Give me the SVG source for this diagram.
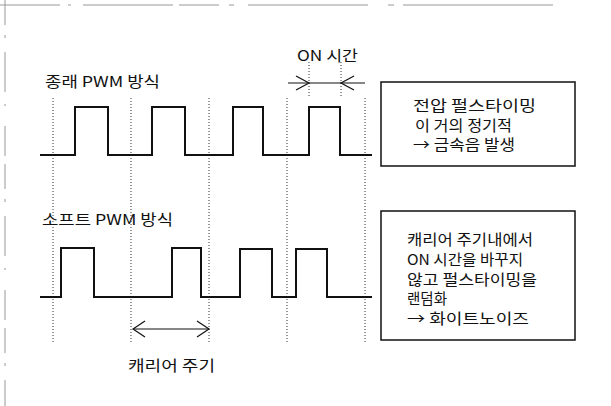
<svg xmlns="http://www.w3.org/2000/svg" width="611" height="406" viewBox="0 0 611 406">
<style>
.t{font-family:"Noto Sans CJK KR","Noto Sans",sans-serif;font-size:15px;fill:#111}
.wave{fill:none;stroke:#111;stroke-width:2;stroke-linejoin:miter}
.dot{stroke:#333;stroke-width:1;stroke-dasharray:1 2;fill:none}
.box{fill:#fff;stroke:#111;stroke-width:1.5}
.arr{fill:none;stroke:#111;stroke-width:1.2}
.frame{fill:none;stroke:#999;stroke-width:1}
</style>
<rect width="611" height="406" fill="#fff"/>
<g id="frame">
<path class="frame" d="M0 5 H611" stroke-dasharray="60 8 3 12 90 6 40 10 5 14 120 20 6 9 150"/>
<path class="frame" d="M5 0 V406" stroke-dasharray="25 10 3 14 40 12 2 20 30 8"/>
</g>
<g id="connectors">
<g id="gridlines">
<path class="dot" d="M53 98 V342 M131 98 V342 M209 98 V342 M287 98 V342 M365 98 V342"/>
<path class="dot" d="M309 62 V98 M341 62 V98"/>
</g>
<g id="on-time-arrow">
<path class="arr" d="M288 83 H365"/>
<path class="arr" d="M296 76 L309 83 L296 90"/>
<path class="arr" d="M354 76 L341 83 L354 90"/>
</g>
<g id="carrier-arrow">
<path class="arr" d="M133 329 H209"/>
<path class="arr" d="M145 321 L133 329 L145 337"/>
<path class="arr" d="M197 321 L209 329 L197 337"/>
</g>
</g>
<g id="conventional-pwm">
<text class="t" x="45" y="87" textLength="115" lengthAdjust="spacingAndGlyphs">종래 PWM 방식</text>
<path class="wave" d="M40 155 H75 V107 H108 V155 H152 V107 H185 V155 H233 V107 H263 V155 H309 V107 H340 V155 H372"/>
</g>
<g id="on-time-label">
<text class="t" x="297" y="61" textLength="61" lengthAdjust="spacingAndGlyphs">ON 시간</text>
</g>
<g id="soft-pwm">
<text class="t" x="42" y="225" textLength="131" lengthAdjust="spacingAndGlyphs">소프트 PWM 방식</text>
<path class="wave" d="M40 297 H61 V248 H94 V297 H172 V248 H201 V297 H240 V249 H272 V297 H296 V249 H327 V297 H372"/>
</g>
<g id="carrier-label">
<text class="t" x="128" y="371" textLength="87" lengthAdjust="spacingAndGlyphs">캐리어 주기</text>
</g>
<g id="box-conventional">
<rect class="box" x="381" y="82" width="194" height="84"/>
<text class="t" x="413" y="111" textLength="123" lengthAdjust="spacingAndGlyphs">전압 펄스타이밍</text>
<text class="t" x="415" y="130.5" textLength="97" lengthAdjust="spacingAndGlyphs">이 거의 정기적</text>
<text class="t" x="413" y="150" textLength="102" lengthAdjust="spacingAndGlyphs">→ 금속음 발생</text>
</g>
<g id="box-soft">
<rect class="box" x="381" y="211" width="194" height="129"/>
<text class="t" x="407" y="245" textLength="126" lengthAdjust="spacingAndGlyphs">캐리어 주기내에서</text>
<text class="t" x="407" y="265" textLength="116" lengthAdjust="spacingAndGlyphs">ON 시간을 바꾸지</text>
<text class="t" x="407" y="284.5" textLength="130" lengthAdjust="spacingAndGlyphs">않고 펄스타이밍을</text>
<text class="t" x="407" y="304" textLength="40" lengthAdjust="spacingAndGlyphs">랜덤화</text>
<text class="t" x="407" y="324" textLength="122" lengthAdjust="spacingAndGlyphs">→ 화이트노이즈</text>
</g>
</svg>
